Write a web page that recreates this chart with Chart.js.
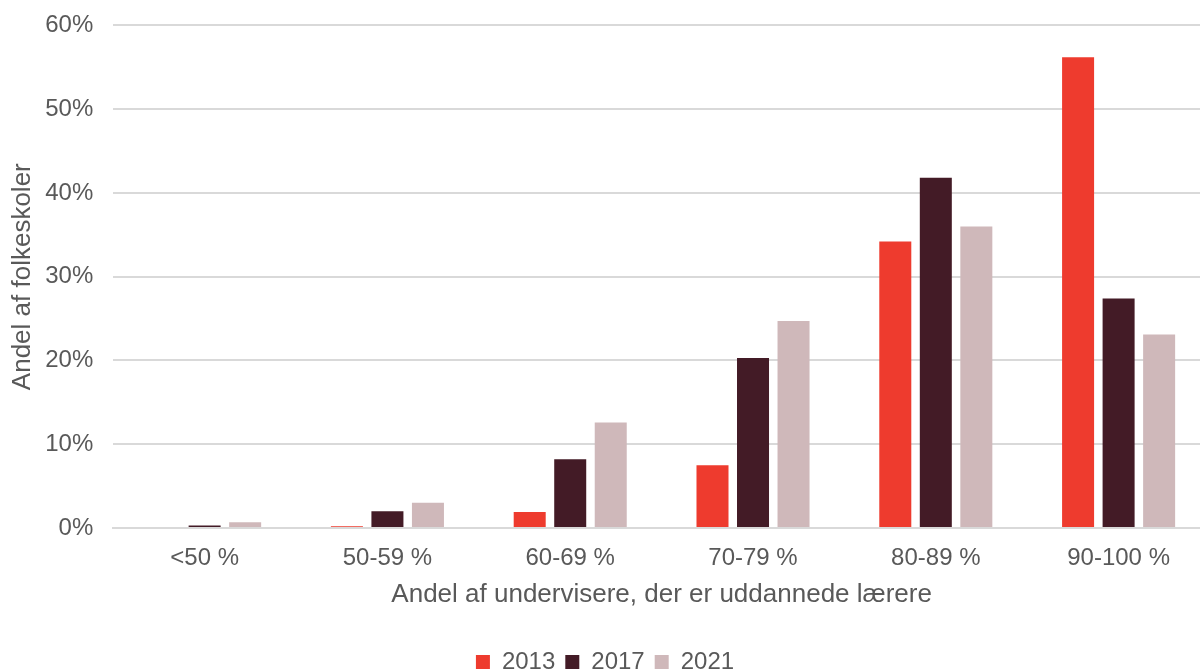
<!DOCTYPE html>
<html>
<head>
<meta charset="utf-8">
<script src="https://cdn.jsdelivr.net/npm/chart.js@4/dist/chart.umd.min.js"></script>
<style>
  html, body { margin: 0; padding: 0; background: #fff; overflow: hidden; }
  #wrap { width: 1210px; height: 693px; position: relative; margin-top: -9px; }
</style>
</head>
<body>
<div id="wrap"><canvas id="chart"></canvas></div>
<script>
const categories = ["<50 %", "50-59 %", "60-69 %", "70-79 %", "80-89 %", "90-100 %"];
const values2013 = [0, 0.2, 1.9, 7.5, 34.2, 56.2];
const values2017 = [0.3, 2.0, 8.2, 20.3, 41.8, 27.4];
const values2021 = [0.7, 3.0, 12.6, 24.7, 36.0, 23.1];
const yTicks = [0, 10, 20, 30, 40, 50, 60];

const textColor = "#595959";
const fontFamily = "'Liberation Sans', Arial, sans-serif";

new Chart(document.getElementById("chart"), {
  type: "bar",
  data: {
    labels: categories,
    datasets: [
      { label: "2013", data: values2013, backgroundColor: "#ee3b2e" },
      { label: "2017", data: values2017, backgroundColor: "#431b26" },
      { label: "2021", data: values2021, backgroundColor: "#cfb8ba" }
    ]
  },
  options: {
    responsive: true,
    maintainAspectRatio: false,
    animation: false,
    layout: { padding: { top: 2, right: 0, bottom: 0, left: 0 } },
    datasets: { bar: { categoryPercentage: 0.665, barPercentage: 0.79 } },
    plugins: {
      legend: {
        position: "bottom",
        labels: {
          color: textColor,
          font: { family: fontFamily, size: 24 },
          boxWidth: 14,
          boxHeight: 14,
          padding: 10
        }
      },
      tooltip: { enabled: false }
    },
    scales: {
      x: {
        grid: { display: false },
        border: { color: "#d9d9d9", width: 2 },
        ticks: { color: textColor, font: { family: fontFamily, size: 24 }, padding: 8 },
        title: {
          display: true,
          text: "Andel af undervisere, der er uddannede lærere",
          color: textColor,
          font: { family: fontFamily, size: 26 },
          padding: { top: -2, bottom: 30 }
        }
      },
      y: {
        min: 0,
        max: 60,
        afterBuildTicks: (axis) => { axis.ticks = yTicks.map((v) => ({ value: v })); },
        grid: { color: "#d9d9d9", lineWidth: 2, drawTicks: false },
        border: { display: false },
        ticks: {
          color: textColor,
          font: { family: fontFamily, size: 24 },
          padding: 20,
          callback: (v) => `${v}%`
        },
        title: {
          display: true,
          text: "Andel af folkeskoler",
          color: textColor,
          font: { family: fontFamily, size: 26 },
          padding: { top: 7, bottom: -13 }
        }
      }
    }
  }
});
</script>
</body>
</html>
